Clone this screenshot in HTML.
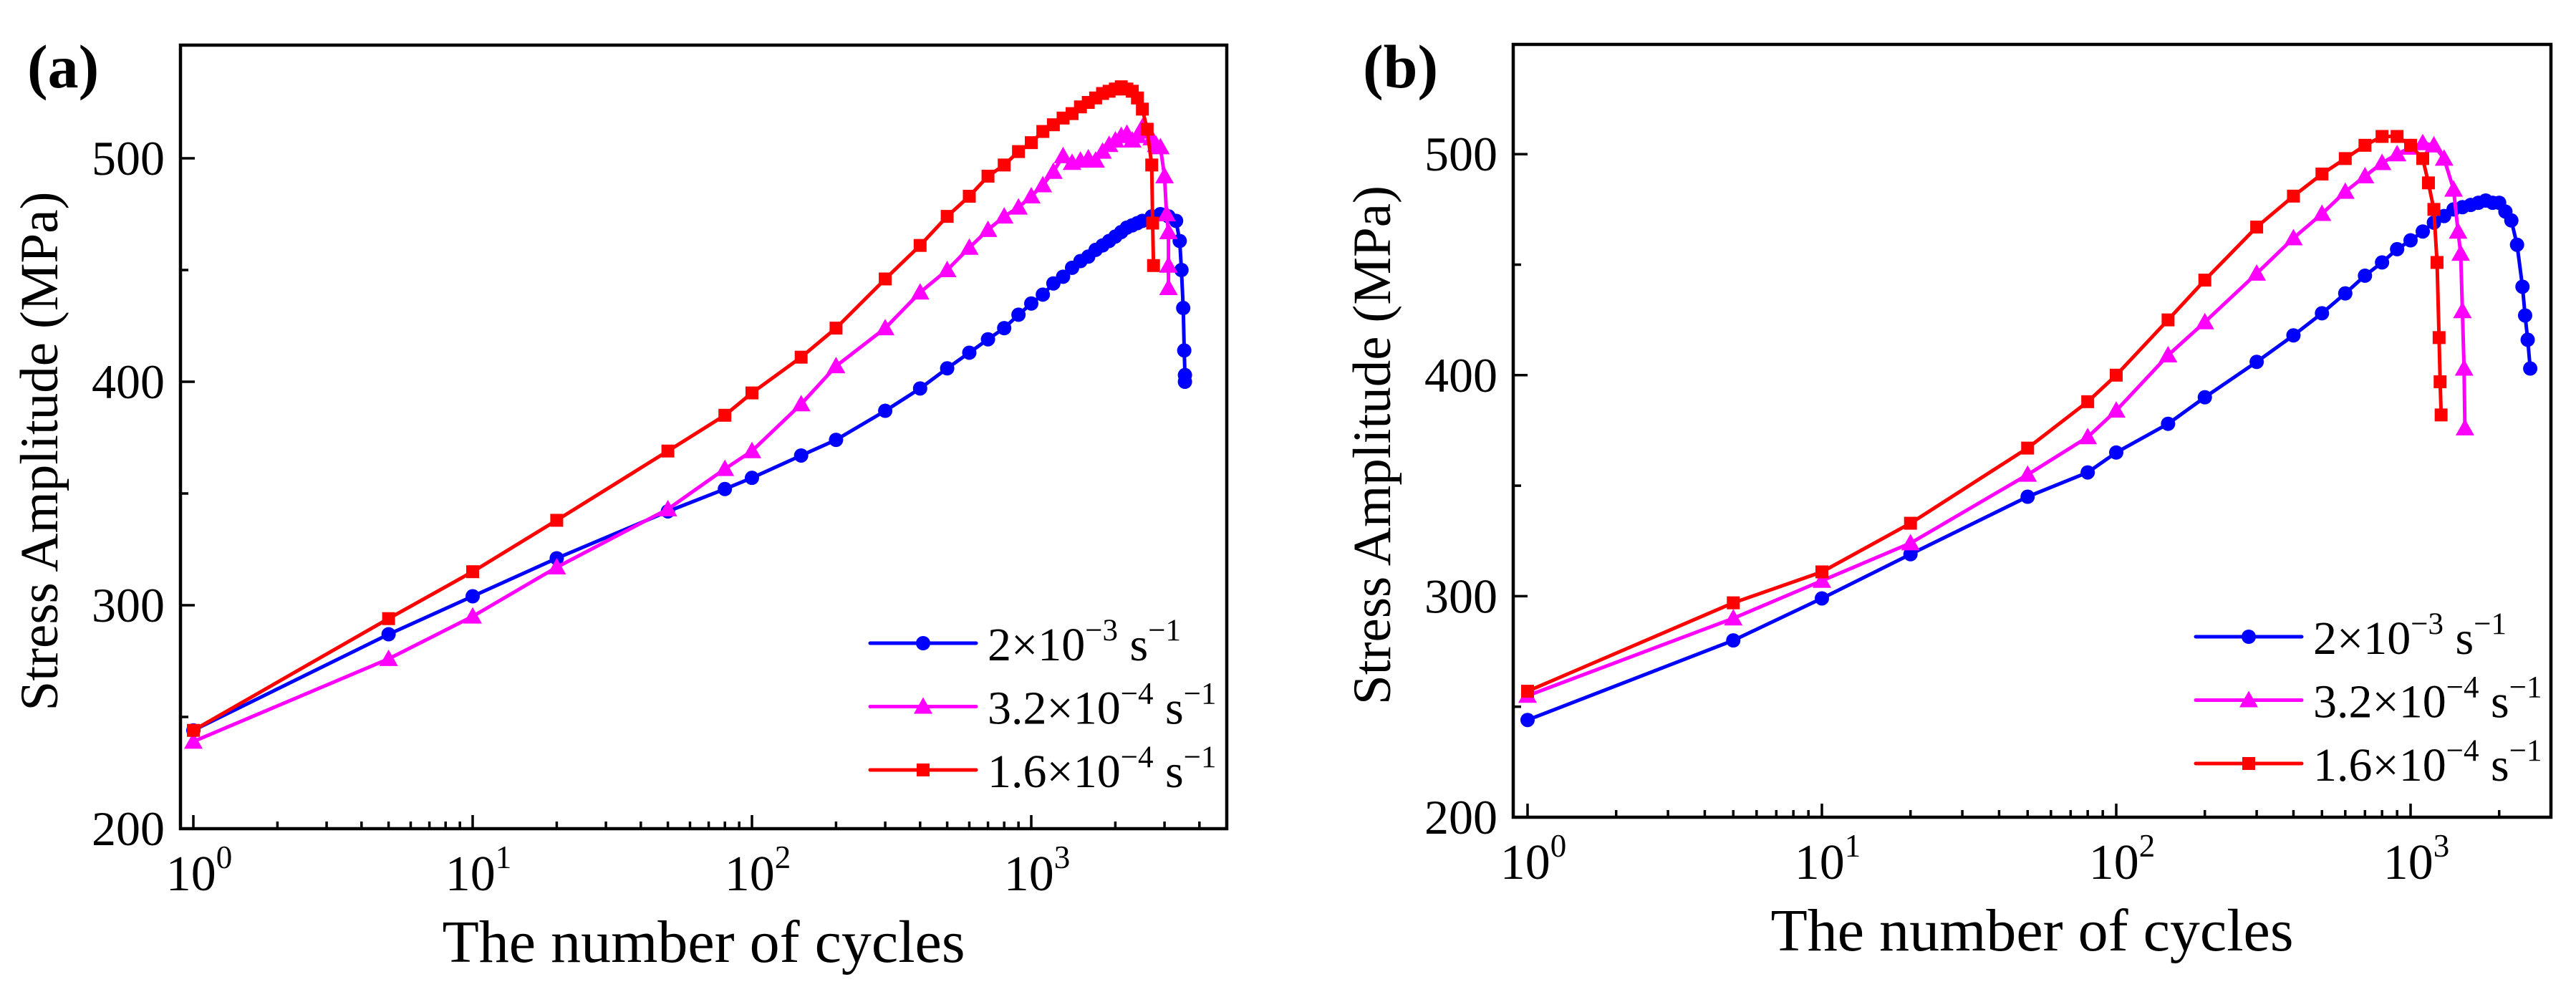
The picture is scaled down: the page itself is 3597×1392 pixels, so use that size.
<!DOCTYPE html>
<html><head><meta charset="utf-8"><style>
html,body{margin:0;padding:0;background:#fff;}
svg{display:block;font-family:"Liberation Serif",serif;}
</style></head><body>
<svg id="fig" width="3597" height="1392" viewBox="0 0 3597 1392" xmlns="http://www.w3.org/2000/svg"></svg>
<script>
// Panel (a) data
const aBlueN = [1,5,10,20,50,80,100,150,200,300,400,500,600,700,800,900,1000,1100,1200,1300,1400,1500,1600,1700,1800,1900,2000,2100,2200,2300,2400,2500,2700,2900,3100,3300,3400,3450,3500,3530,3550,3550];
const aBlueS = [244,287,304,321,342,352,357,367,374,387,397,406,413,419,424,430,435,439,444,447,451,454,456,459,461,463,465,467,469,470,471,472,474,475,474,472,463,450,433,414,403,400];
const aMagN = [1,5,10,20,50,80,100,150,200,300,400,500,600,700,800,900,1000,1100,1200,1300,1400,1500,1600,1700,1800,1900,2000,2100,2200,2300,2400,2500,2600,2700,2800,2900,3000,3050,3100,3100,3100];
const aMagS = [239,276,295,317,343,361,369,390,407,424,440,450,460,468,474,478,483,488,494,501,498,499,500,499,503,506,508,510,511,508,510,514,512,509,506,505,492,475,467,452,442];
const aRedN = [1,5,10,20,50,80,100,150,200,300,400,500,600,700,800,900,1000,1100,1200,1300,1400,1500,1600,1700,1800,1900,2000,2100,2200,2300,2400,2500,2600,2700,2720,2740];
const aRedS = [244,294,315,338,369,385,395,411,424,446,461,474,483,492,497,503,507,512,515,518,520,523,525,527,529,530,531,532,531,530,527,522,513,497,471,452];
// Panel (b) data
const bBlueN = [1,5,10,20,50,80,100,150,200,300,400,500,600,700,800,900,1000,1100,1200,1300,1400,1500,1600,1700,1800,1900,2000,2100,2200,2300,2400,2450,2500,2550];
const bBlueS = [244,280,299,319,345,356,365,378,390,406,418,428,437,445,451,457,461,465,469,472,475,476,477,478,479,478,478,474,470,459,440,427,416,403];
const bMagN = [1,5,10,20,50,80,100,150,200,300,400,500,600,700,800,900,1000,1100,1200,1300,1400,1450,1480,1500,1520,1530];
const bMagS = [255,290,307,324,355,372,384,409,424,446,462,473,483,490,496,500,503,505,504,498,484,465,455,429,403,376];
const bRedN = [1,5,10,20,50,80,100,150,200,300,400,500,600,700,800,900,1000,1100,1150,1200,1230,1250,1260,1270];
const bRedS = [257,297,311,333,367,388,400,425,443,467,481,491,498,504,508,508,504,498,487,475,451,417,397,382];
const yTicks = [200,300,400,500];
const xTickExp = [0,1,2,3];
const legendLabels = [["2×10","−3"],["3.2×10","−4"],["1.6×10","−4"]];

const NS="http://www.w3.org/2000/svg";
const svg=document.getElementById('fig');
function mk(tag,attrs,parent){const e=document.createElementNS(NS,tag);for(const k in attrs)e.setAttribute(k,attrs[k]);(parent||svg).appendChild(e);return e;}

function panel(cfg){
  const g=mk('g',{});
  
  
  const X=n=>cfg.x0+cfg.dec*Math.log10(n);
  const Y=v=>cfg.bottom-(v-200)*cfg.ppu;
  const fr=mk('rect',{x:cfg.left,y:cfg.top,width:cfg.right-cfg.left,height:cfg.bottom-cfg.top,fill:'none',stroke:'#000','stroke-width':4.5},g);
  
  
  for(const v of yTicks){
    const t=mk('line',{x1:cfg.left,x2:cfg.left+20,y1:Y(v),y2:Y(v),stroke:'#000','stroke-width':3.5},g);
    
    
    const lb=mk('text',{x:cfg.left-22,y:Y(v)+23,'font-size':68,'text-anchor':'end'},g);
    
    
    lb.textContent=v;
  }
  for(const v of [250,350,450]){
    const t=mk('line',{x1:cfg.left,x2:cfg.left+11,y1:Y(v),y2:Y(v),stroke:'#000','stroke-width':3.5},g);
    
    
  }
  for(const e of xTickExp){
    const xp=X(Math.pow(10,e));
    const t=mk('line',{x1:xp,x2:xp,y1:cfg.bottom,y2:cfg.bottom-19,stroke:'#000','stroke-width':3.5},g);
    
    
    const lb=mk('text',{x:xp+8,y:cfg.bottom+86,'font-size':70,'text-anchor':'middle'},g);
    
    
    lb.textContent='10';
    const sp=mk('tspan',{dy:-31,'font-size':45},lb);
    sp.textContent=String(e);
    for(let m=2;m<=9;m++){
      const n=m*Math.pow(10,e);const xm=X(n);
      if(xm>cfg.right-5)break;
      const mt=mk('line',{x1:xm,x2:xm,y1:cfg.bottom,y2:cfg.bottom-10,stroke:'#000','stroke-width':3.5},g);
      
      
    }
  }
  const yt=mk('text',{x:0,y:0,'font-size':75,'text-anchor':'middle',transform:`translate(${cfg.left-172},${(cfg.top+cfg.bottom)/2+20}) rotate(-90)`},g);
  
  
  yt.textContent='Stress Amplitude (MPa)';
  const xt=mk('text',{x:(cfg.left+cfg.right)/2,y:cfg.bottom+186,'font-size':84,'text-anchor':'middle'},g);
  
  
  xt.textContent='The number of cycles';
  const pl=mk('text',{x:cfg.labelX,y:122,'font-size':86,'font-weight':'bold'},g);
  
  
  pl.textContent='('+cfg.id+')';
  const series=[
    {N:cfg.blueN,S:cfg.blueS,c:'#0000ff',m:'circle',name:'series-2e-3'},
    {N:cfg.magN,S:cfg.magS,c:'#ff00ff',m:'tri',name:'series-3.2e-4'},
    {N:cfg.redN,S:cfg.redS,c:'#ff0000',m:'square',name:'series-1.6e-4'}];
  function marker(type,x,y,c,parent){
    let e;
    if(type==='circle')e=mk('circle',{cx:x,cy:y,r:10,fill:c},parent);
    else if(type==='square')e=mk('rect',{x:x-9,y:y-9,width:18,height:18,fill:c},parent);
    else e=mk('polygon',{points:`${x},${y-13} ${x-13},${y+10} ${x+13},${y+10}`,fill:c},parent);
    return e;
  }
  for(const s of series){
    const sg=mk('g',{},g);
    
    
    const pts=s.N.map((n,i)=>X(n).toFixed(1)+','+Y(s.S[i]).toFixed(1)).join(' ');
    const ln=mk('polyline',{points:pts,fill:'none',stroke:s.c,'stroke-width':5,'stroke-linejoin':'round'},sg);
    
    
    s.N.forEach((n,i)=>{
      const mm=marker(s.m,X(n),Y(s.S[i]),s.c,sg);
      
      
    });
  }
  const lg=mk('g',{},g);
  
  
  series.forEach((s,i)=>{
    const ly=cfg.legY+i*88.5;
    const le=mk('g',{},lg);
    
    
    mk('line',{x1:cfg.legX,x2:cfg.legX+148,y1:ly,y2:ly,stroke:s.c,'stroke-width':5,'stroke-linecap':'round'},le);
    marker(s.m,cfg.legX+74,ly,s.c,le);
    const t=mk('text',{x:cfg.legX+164,y:ly+24,'font-size':66},le);
    t.textContent=legendLabels[i][0];
    const e1=mk('tspan',{dy:-28,'font-size':43},t);e1.textContent=legendLabels[i][1];
    const sS=mk('tspan',{dy:28,'font-size':66},t);sS.textContent=' s';
    const e2=mk('tspan',{dy:-28,'font-size':43},t);e2.textContent='−1';
  });
}

panel({id:'a',left:252,right:1713,top:63,bottom:1157,x0:270,dec:390,ppu:3.12,labelX:38,legX:1215,legY:898,
  blueN:aBlueN,blueS:aBlueS,magN:aMagN,magS:aMagS,redN:aRedN,redS:aRedS});
panel({id:'b',left:2113,right:3562,top:62,bottom:1141,x0:2133,dec:411,ppu:3.086,labelX:1903,legX:3066,legY:889,
  blueN:bBlueN,blueS:bBlueS,magN:bMagN,magS:bMagS,redN:bRedN,redS:bRedS});
</script>
</body></html>
